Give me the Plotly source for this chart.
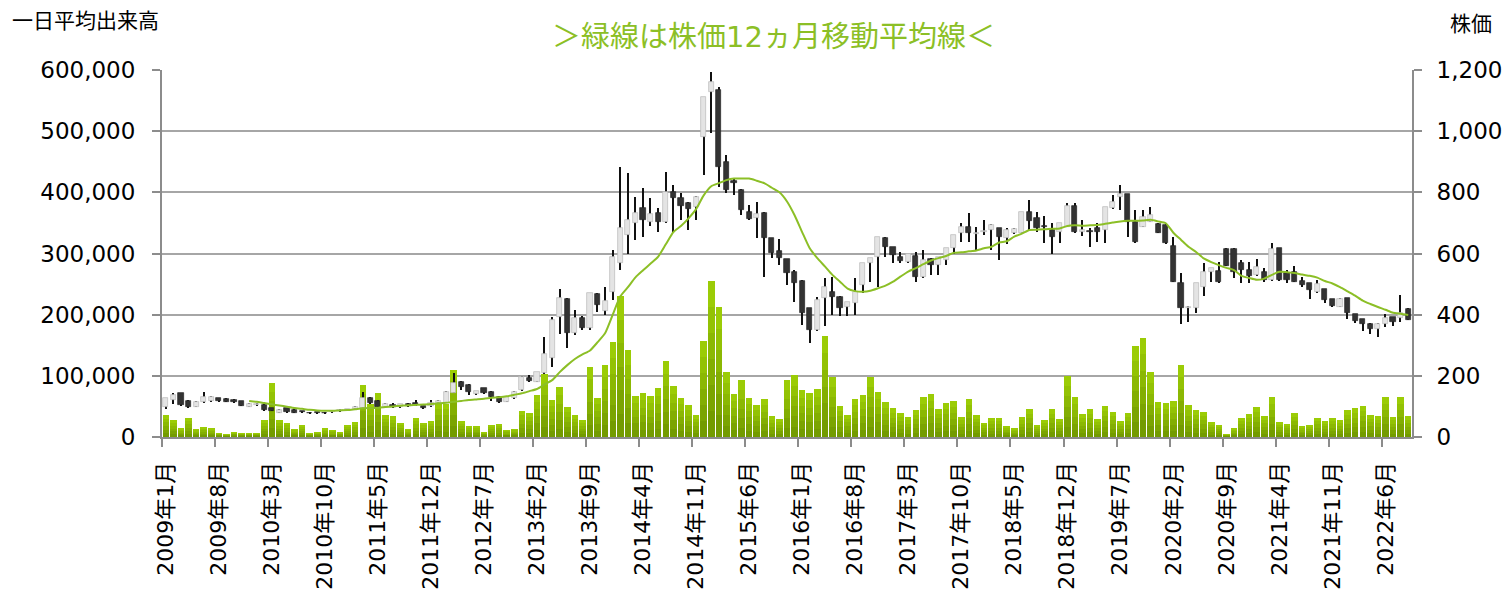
import plotly.graph_objects as go

# ---- data (monthly, 2009年1月 .. 2022年9月) ----
month_index = list(range(165))

tick_index = [0, 7, 14, 21, 28, 35, 42, 49, 56, 63, 70, 77, 84, 91, 98, 105,
              112, 119, 126, 133, 140, 147, 154, 161]
tick_labels = ["2009年1月", "2009年8月", "2010年3月", "2010年10月", "2011年5月",
               "2011年12月", "2012年7月", "2013年2月", "2013年9月", "2014年4月",
               "2014年11月", "2015年6月", "2016年1月", "2016年8月", "2017年3月",
               "2017年10月", "2018年5月", "2018年12月", "2019年7月", "2020年2月",
               "2020年9月", "2021年4月", "2021年11月", "2022年6月"]

price_open = [97, 120, 143, 118, 99, 113, 118, 126, 123, 121, 118, 99, 104, 105, 94, 80, 94, 88, 83, 79,
              81, 78, 82, 85, 88, 90, 94, 126, 119, 99, 105, 97, 108, 110, 101, 101, 110, 112, 145, 181,
              170, 139, 159, 148, 132, 116, 126, 154, 194, 181, 208, 257, 393, 450, 339, 388, 355, 468, 412, 475,
              568, 660, 699, 748, 704, 733, 704, 800, 780, 764, 753, 982, 1129, 1135, 900, 838, 808, 735, 715, 731,
              650, 608, 581, 541, 510, 421, 350, 453, 475, 457, 426, 437, 497, 568, 590, 650, 620, 590, 573, 593,
              524, 582, 562, 579, 617, 666, 688, 665, 669, 677, 682, 650, 666, 666, 737, 715, 690, 677, 671, 688,
              755, 671, 675, 682, 677, 748, 786, 794, 704, 688, 704, 697, 693, 625, 503, 421, 421, 492, 541, 544,
              615, 615, 568, 546, 530, 541, 513, 617, 535, 541, 511, 503, 475, 483, 450, 426, 453, 401, 385, 370,
              352, 370, 391, 388, 420]
price_high = [128, 143, 145, 120, 119, 148, 133, 128, 126, 123, 119, 110, 110, 107, 96, 90, 96, 90, 84, 80,
              83, 80, 86, 90, 93, 100, 148, 132, 121, 110, 110, 109, 110, 121, 103, 121, 121, 150, 208, 183,
              172, 152, 161, 150, 134, 134, 150, 199, 203, 214, 328, 393, 483, 455, 415, 395, 472, 470, 490, 611,
              882, 862, 786, 813, 780, 748, 868, 824, 797, 770, 788, 1113, 1195, 1145, 922, 846, 810, 759, 770, 735,
              652, 646, 583, 546, 512, 423, 458, 519, 524, 460, 440, 519, 568, 584, 655, 655, 622, 606, 600, 606,
              611, 584, 590, 617, 660, 699, 733, 688, 709, 695, 684, 682, 682, 737, 775, 737, 723, 699, 699, 764,
              764, 709, 682, 699, 753, 791, 823, 796, 742, 742, 753, 699, 695, 655, 535, 428, 503, 568, 552, 573,
              617, 617, 579, 573, 582, 552, 633, 619, 545, 560, 524, 505, 513, 485, 452, 455, 455, 403, 387, 372,
              372, 402, 393, 464, 422]
price_low = [92, 108, 103, 96, 97, 110, 115, 113, 113, 110, 100, 97, 102, 86, 84, 78, 77, 78, 79, 76,
             77, 76, 80, 84, 86, 89, 92, 108, 95, 97, 94, 95, 99, 103, 92, 99, 108, 110, 143, 154,
             137, 137, 141, 119, 111, 114, 124, 152, 180, 179, 205, 230, 338, 290, 334, 350, 350, 410, 400, 448,
             546, 600, 644, 655, 690, 671, 700, 671, 710, 677, 710, 857, 993, 818, 797, 791, 726, 710, 650, 524,
             584, 562, 497, 443, 366, 306, 345, 363, 399, 397, 397, 399, 470, 508, 492, 590, 568, 568, 570, 508,
             520, 530, 530, 562, 600, 639, 639, 611, 660, 611, 579, 630, 664, 664, 677, 671, 633, 600, 633, 686,
             668, 657, 622, 639, 633, 746, 742, 655, 633, 686, 702, 666, 630, 506, 371, 377, 404, 460, 508, 503,
             558, 520, 503, 503, 528, 508, 511, 511, 505, 506, 492, 450, 470, 437, 424, 424, 385, 374, 348, 337,
             328, 360, 363, 377, 381]
price_close = [126, 138, 105, 99, 116, 132, 130, 118, 116, 116, 102, 108, 108, 88, 86, 88, 83, 80, 81, 77,
               79, 77, 85, 88, 92, 98, 126, 112, 97, 108, 97, 107, 101, 105, 94, 110, 119, 148, 175, 165,
               148, 150, 143, 132, 113, 132, 148, 197, 183, 212, 273, 382, 453, 339, 390, 355, 470, 432, 445, 590,
               682, 710, 731, 710, 730, 704, 802, 783, 756, 744, 786, 1113, 1160, 884, 808, 830, 742, 713, 730, 650,
               601, 584, 535, 502, 404, 350, 448, 492, 459, 421, 440, 475, 568, 584, 655, 622, 595, 577, 600, 524,
               579, 562, 590, 617, 660, 688, 666, 668, 671, 693, 655, 677, 680, 737, 707, 682, 687, 655, 699, 755,
               671, 677, 670, 671, 753, 770, 794, 704, 639, 720, 726, 668, 635, 508, 421, 426, 503, 541, 552, 508,
               560, 541, 546, 526, 555, 513, 614, 513, 515, 508, 497, 481, 500, 448, 428, 450, 407, 380, 370, 352,
               370, 388, 377, 404, 383]

volume = [36000, 27800, 14700, 31000, 13000, 16300, 14700, 6500, 4900, 8200, 6500, 6500, 6500, 27800, 88300,
          27800, 22900, 13000, 19600, 6500, 8200, 14700, 11400, 8200, 19600, 24500, 85000, 54000, 72000, 36000,
          34300, 22900, 13000, 31000, 22900, 26000, 55000, 54000, 109600, 26000, 18000, 18000, 8200, 19600, 21300,
          11400, 13000, 42500, 39200, 68700, 103000, 60500, 81750, 49000, 36000, 27800, 114500, 63800, 117700, 155300,
          230500, 142000, 67000, 72000, 67000, 80000, 124000, 83400, 63800, 52000, 36000, 157000, 255000, 212500, 106000,
          70000, 93000, 63800, 52000, 62000, 34300, 29400, 93000, 101000, 77000, 72000, 78500, 165000, 98000, 50700,
          36000, 62000, 68700, 98000, 73600, 57200, 47400, 39200, 32700, 44000, 65400, 70000, 45800, 55600, 58900,
          32700, 62000, 36000, 22900, 31000, 31000, 18000, 14700, 32700, 45800, 19600, 27800, 45800, 29400, 99700,
          65400, 37600, 45800, 29400, 50700, 40900, 26200, 39200, 148800, 162000, 106000, 57200, 55600, 58900, 117700,
          52300, 44000, 40900, 24500, 19600, 4900, 14700, 31000, 37600, 49000, 34300, 65400, 24500, 21300, 39200,
          18000, 19600, 31000, 26200, 31000, 27800, 44000, 47400, 50700, 36000, 34300, 65400, 32700, 65400, 34300]

ma12 = [None] * 11 + [
    118, 115, 111, 107, 103, 99, 95, 92, 89, 87, 86, 86, 87, 88, 91, 94, 95, 96, 98,
    100, 102, 104, 105, 106, 108, 110, 112, 115, 118, 121, 123, 125, 128, 130, 133, 138, 143, 150, 157,
    172, 186, 212, 235, 255, 270, 283, 310, 340, 400, 460, 490, 522, 545, 567, 590, 630, 670, 690, 715,
    745, 790, 820, 830, 840, 845, 845, 845, 838, 830, 815, 800, 770, 725, 670, 617, 585, 558, 530, 508,
    485, 477, 475, 478, 486, 495, 508, 525, 541, 552, 565, 577, 585, 592, 602, 604, 607, 610, 617, 622,
    636, 640, 655, 665, 677, 678, 679, 681, 682, 690, 692, 691, 692, 693, 697, 701, 705, 707, 707, 708,
    710, 705, 699, 668, 645, 622, 605, 584, 572, 562, 553, 546, 527, 520, 514, 518, 530, 540, 539, 536,
    531, 527, 521, 510, 502, 490, 476, 462, 446, 435, 425, 416, 406, 403, 399]

# ---- styling ----
GRID = "#a6a6a6"
AXIS = "#8c8c8c"
# volume bars: light at the top, darker toward the base (stepped shading layers)
VOL_SHADES = ["#9bcc06", "#93c204", "#8bb803", "#83ae02", "#7ba401", "#739b00"]
MA_GREEN = "#8cbf26"
UP_FILL = "#e4e4e4"
DOWN_FILL = "#333333"
FONT = "DejaVu Sans, Noto Sans CJK JP, sans-serif"

W, H = 1509, 609
L, T, R, B = 162, 70, 97, 172
PW, PH = W - L - R, H - T - B

body_base = [min(o, c) for o, c in zip(price_open, price_close)]
body_len = [max(abs(c - o), 3) for o, c in zip(price_open, price_close)]
body_col = [UP_FILL if c >= o else DOWN_FILL for o, c in zip(price_open, price_close)]
body_line = ["#b8b8b8" if c >= o else "#222222" for o, c in zip(price_open, price_close)]
wick_len = [h - l for h, l in zip(price_high, price_low)]

fig = go.Figure()

n = len(VOL_SHADES)
for k, shade in enumerate(VOL_SHADES):
    frac = 1 - k / n
    fig.add_trace(go.Bar(x=month_index, y=[v * frac for v in volume], yaxis="y", width=0.86,
                         marker=dict(color=shade, line=dict(width=0)), hoverinfo="skip"))

fig.add_trace(go.Bar(x=month_index, y=wick_len, base=price_low, yaxis="y2", width=0.17,
                     marker=dict(color="#111111", line=dict(width=0)), hoverinfo="skip"))

fig.add_trace(go.Bar(x=month_index, y=body_len, base=body_base, yaxis="y2", width=0.68,
                     marker=dict(color=body_col, line=dict(color=body_line, width=0.7)),
                     hoverinfo="skip"))

fig.add_trace(go.Scatter(x=month_index, y=ma12, yaxis="y2", mode="lines",
                         line=dict(color=MA_GREEN, width=2, shape="spline", smoothing=0.6),
                         connectgaps=False, hoverinfo="skip"))

fig.update_layout(
    width=W, height=H,
    margin=dict(l=L, r=R, t=T, b=B, autoexpand=False),
    paper_bgcolor="white", plot_bgcolor="white",
    barmode="overlay", bargap=0, showlegend=False,
    font=dict(family=FONT, color="#000000"),
    xaxis=dict(range=[-0.5, 164.5], tickmode="array", tickvals=tick_index, ticktext=tick_labels,
               tickangle=-90, tickfont=dict(size=22, family=FONT), ticks="",
               showgrid=False, zeroline=False, showline=True, linecolor=AXIS, linewidth=2,
               ticklabelstandoff=14, automargin=False,
               minor=dict(ticks="outside", tick0=-0.5, dtick=7, ticklen=8, tickcolor=AXIS,
                          tickwidth=2, showgrid=False)),
    yaxis=dict(range=[0, 600000], dtick=100000, tickformat=",", tickfont=dict(size=23),
               showgrid=True, gridcolor=GRID, gridwidth=2, zeroline=False,
               showline=True, linecolor=AXIS, linewidth=2, automargin=False,
               ticks="outside", ticklen=8, tickcolor=AXIS, tickwidth=2, ticklabelstandoff=12),
    yaxis2=dict(range=[0, 1200], dtick=200, tickformat=",", tickfont=dict(size=23),
                overlaying="y", side="right", showgrid=False, zeroline=False,
                showline=True, linecolor=AXIS, linewidth=2, automargin=False,
                ticks="outside", ticklen=8, tickcolor=AXIS, tickwidth=2, ticklabelstandoff=10),
    annotations=[
        dict(text="＞緑線は株価12ヵ月移動平均線＜", xref="paper", yref="paper",
             x=(773 - L) / PW, y=1 + (T - 37) / PH, xanchor="center", yanchor="middle",
             showarrow=False, font=dict(size=29, color=MA_GREEN, family=FONT)),
        dict(text="一日平均出来高", xref="paper", yref="paper",
             x=(10 - L) / PW, y=1 + (T - 21) / PH, xanchor="left", yanchor="middle",
             showarrow=False, font=dict(size=21, family=FONT)),
        dict(text="株価", xref="paper", yref="paper",
             x=(1471 - L) / PW, y=1 + (T - 24) / PH, xanchor="center", yanchor="middle",
             showarrow=False, font=dict(size=21, family=FONT)),
    ],
)

fig.write_html(
    "out.html",
    config={"displayModeBar": False},
    post_script=("document.documentElement.style.margin='0';document.body.style.margin='0';"
                 "document.body.style.overflow='hidden';document.documentElement.style.overflow='hidden';"),
)
